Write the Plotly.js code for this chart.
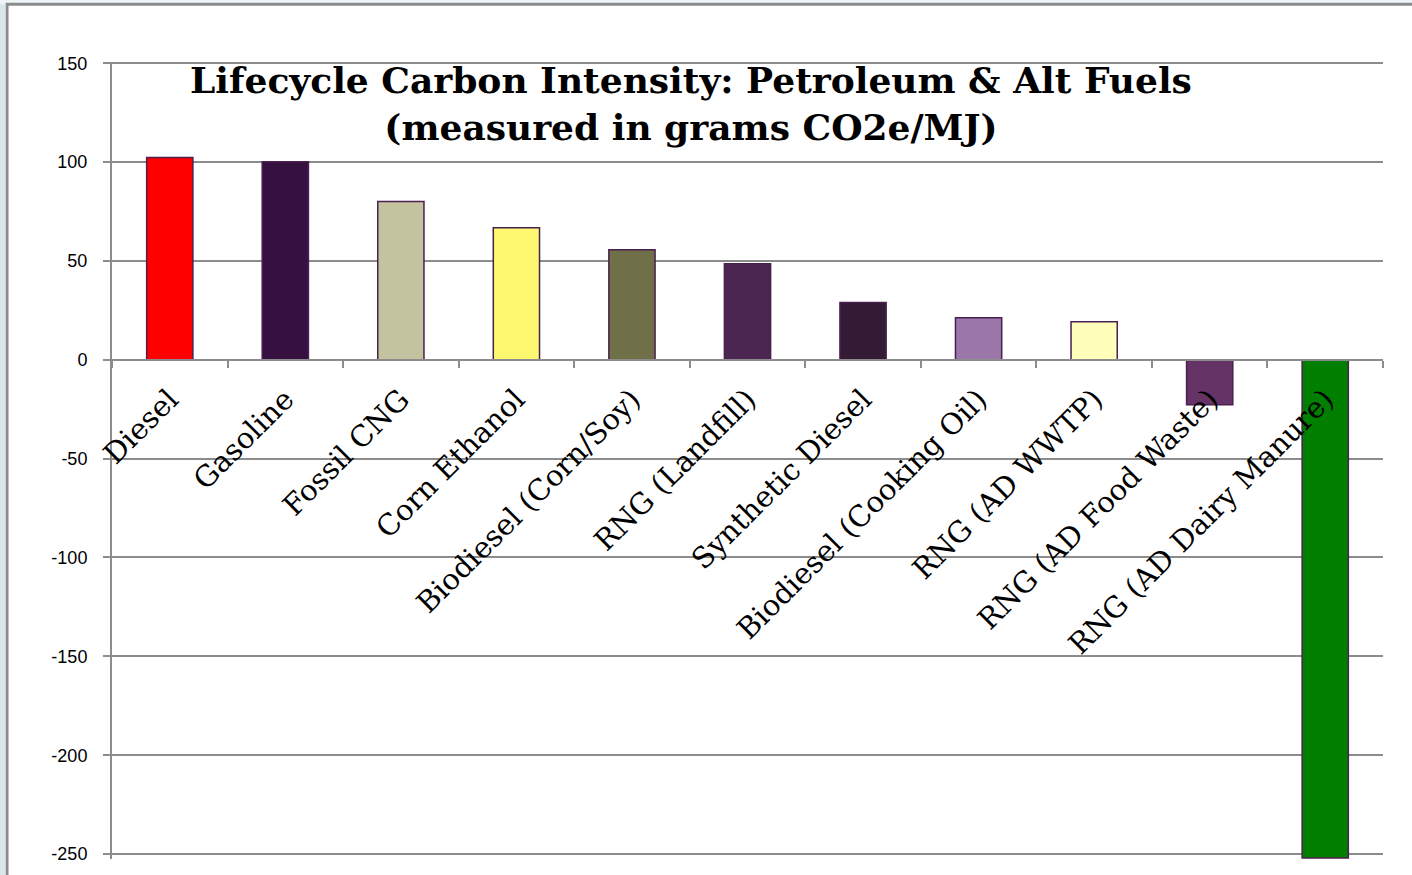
<!DOCTYPE html>
<html>
<head>
<meta charset="utf-8">
<script src="https://cdn.plot.ly/plotly-3.0.1.min.js"></script>
<style>
  html, body { margin: 0; padding: 0; background: #ffffff; }
  #chart { width: 1412px; height: 875px; }
</style>
</head>
<body>
<div id="chart"></div>
<script>
const categories = [
  "Diesel", "Gasoline", "Fossil CNG", "Corn Ethanol", "Biodiesel (Corn/Soy)",
  "RNG (Landfill)", "Synthetic Diesel", "Biodiesel (Cooking Oil)", "RNG (AD WWTP)",
  "RNG (AD Food Waste)", "RNG (AD Dairy Manure)"
];
const carbonIntensity = [102.3, 100.2, 80.0, 66.8, 55.7, 48.6, 28.9, 21.3, 19.2, -22.8, -252.0];
const barColors = [
  "#ff0000", "#361040", "#c3c3a0", "#fdf870", "#6f6f48",
  "#4b2650", "#331a35", "#9b76a8", "#ffffbb", "#663366", "#007f00"
];
const yTickValues = [-250, -200, -150, -100, -50, 0, 50, 100, 150];
const yTickLabels = ["-250", "-200", "-150", "-100", "-50", "0", "50", "100", "150"];
const chartTitle = "Lifecycle Carbon Intensity: Petroleum &amp; Alt Fuels<br>(measured in grams CO2e/MJ)";

const yMin = -252.5, yMax = 150.6;

const trace = {
  type: "bar",
  x: categories,
  y: carbonIntensity,
  marker: { color: barColors, line: { color: "#4a2050", width: 1.5 } },
  hoverinfo: "x+y"
};

const layout = {
  width: 1412, height: 875,
  margin: { l: 112, r: 29, t: 62, b: 16 },
  paper_bgcolor: "#eef4f7",
  plot_bgcolor: "#ffffff",
  showlegend: false,
  bargap: 0.6,
  title: {
    text: chartTitle,
    font: { family: "DejaVu Serif", size: 36, color: "#000000", weight: "bold" },
    x: 0.4555, xanchor: "center", xref: "paper",
    y: 1 - 93 / 875, yanchor: "top", yref: "container"
  },
  xaxis: {
    type: "category",
    anchor: "free",
    position: (0 - yMin) / (yMax - yMin),
    showline: true, linecolor: "#8c8c8c", linewidth: 2,
    ticks: "outside", tickson: "boundaries", ticklen: 7, tickcolor: "#8c8c8c", tickwidth: 2,
    tickangle: -45,
    ticklabelstandoff: 10,
    tickfont: { family: "DejaVu Serif", size: 29, color: "#000000" },
    showgrid: false,
    zeroline: false
  },
  yaxis: {
    range: [yMin, yMax],
    tickvals: yTickValues,
    ticktext: yTickLabels,
    showline: true, linecolor: "#8c8c8c", linewidth: 2,
    ticks: "outside", ticklen: 7, tickcolor: "#8c8c8c", tickwidth: 2,
    showgrid: true, gridcolor: "#8c8c8c", gridwidth: 2,
    zeroline: false,
    tickfont: { family: "Liberation Sans", size: 18, color: "#000000" },
    ticklabelstandoff: 12
  },
  shapes: [
    { type: "rect", xref: "paper", yref: "paper", x0: -0.0826, x1: 1.03, y0: -0.05, y1: 1.0725,
      line: { color: "#8c8c8c", width: 3 }, fillcolor: "#ffffff", layer: "below" },
    { type: "rect", xref: "paper", yref: "paper", x0: -0.1, x1: -0.0838, y0: -0.05, y1: 1.0725,
      line: { width: 0 }, fillcolor: "#dbe7ed", layer: "below" }
  ]
};

Plotly.newPlot("chart", [trace], layout, { displayModeBar: false, staticPlot: true });
</script>
</body>
</html>
